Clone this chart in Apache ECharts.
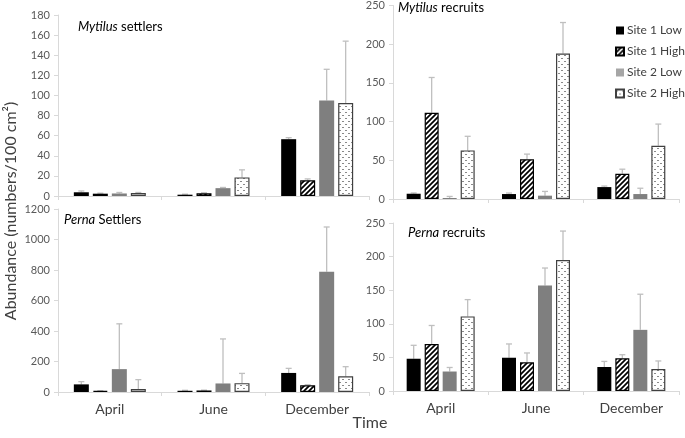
<!DOCTYPE html>
<html><head><meta charset="utf-8">
<script src="https://cdn.jsdelivr.net/npm/echarts@6/dist/echarts.min.js"></script>
<style>html,body{margin:0;padding:0;background:#fff}#c{width:685px;height:438px}</style>
</head><body><div id="c"></div>
<script>
// ---------- data ----------
const months = ['April', 'June', 'December'];
const seriesNames = ['Site 1 Low', 'Site 1 High', 'Site 2 Low', 'Site 2 High'];

// Mytilus settlers (means, error)
const mytSetS1L = [3.7, 1.3, 56.5], mytSetS1LErr = [1.3, 0.5, 1.5];
const mytSetS1H = [2.3, 2.7, 15.7], mytSetS1HErr = [0.5, 0.5, 1.3];
const mytSetS2L = [2.5, 7.8, 95],   mytSetS2LErr = [1, 0.7, 31];
const mytSetS2H = [3, 18.5, 92.5],  mytSetS2HErr = [0.5, 7.5, 61.5];

// Mytilus recruits
const mytRecS1L = [6.8, 6.4, 15.4],   mytRecS1LErr = [1, 1.3, 1.3];
const mytRecS1H = [111.5, 51.3, 32.5], mytRecS1HErr = [45.5, 6.7, 6];
const mytRecS2L = [1.3, 4.3, 6.4],    mytRecS2LErr = [2, 5.5, 7.5];
const mytRecS2H = [62.8, 188, 68.8],  mytRecS2HErr = [18.2, 40, 28];

// Perna settlers
const perSetS1L = [50, 8, 125],   perSetS1LErr = [18, 3, 30];
const perSetS1H = [7, 10, 44],    perSetS1HErr = [2, 2, 4];
const perSetS2L = [150, 56, 789], perSetS2LErr = [297, 292, 293];
const perSetS2H = [20, 58, 103],  perSetS2HErr = [61, 64, 63];

// Perna recruits
const perRecS1L = [48, 49.5, 35.7], perRecS1LErr = [20, 20.5, 8.3];
const perRecS1H = [70, 42.6, 48.6], perRecS1HErr = [27.5, 14, 5.4];
const perRecS2L = [29, 157, 91],    perRecS2LErr = [6, 26, 53];
const perRecS2H = [111, 195, 32.7], perRecS2HErr = [25, 43, 12];

// axis ticks
const tlAxis = {min: 0, max: 180, interval: 20};
const trAxis = {min: 0, max: 250, interval: 50};
const blAxis = {min: 0, max: 1200, interval: 200};
const brAxis = {min: 0, max: 250, interval: 50};

// ---------- patterns ----------
function hatch() {
  const s = 5, c = document.createElement('canvas');
  c.width = s; c.height = s;
  const g = c.getContext('2d');
  g.fillStyle = '#fff'; g.fillRect(0, 0, s, s);
  g.strokeStyle = '#000'; g.lineWidth = 1.7;
  g.beginPath();
  g.moveTo(-1, s + 1); g.lineTo(s + 1, -1);
  g.moveTo(-1, 1); g.lineTo(1, -1);
  g.moveTo(s - 1, s + 1); g.lineTo(s + 1, s - 1);
  g.stroke();
  return c;
}
function dots() {
  const c = document.createElement('canvas');
  c.width = 6; c.height = 6;
  const g = c.getContext('2d');
  g.fillStyle = '#fff'; g.fillRect(0, 0, 6, 6);
  g.fillStyle = '#8a8a8a';
  g.fillRect(0, 1, 2, 1);
  g.fillRect(3, 4, 2, 1);
  return c;
}
const styles = [
  {color: '#000'},
  {color: {image: hatch(), repeat: 'repeat'}, borderColor: '#000', borderWidth: 1.2},
  {color: '#7f7f7f'},
  {color: {image: dots(), repeat: 'repeat'}, borderColor: '#404040', borderWidth: 1.2}
];

const panels = [
  {vals: [mytSetS1L, mytSetS1H, mytSetS2L, mytSetS2H], errs: [mytSetS1LErr, mytSetS1HErr, mytSetS2LErr, mytSetS2HErr], ax: tlAxis, bw: 15, gap: 4, labels: false},
  {vals: [mytRecS1L, mytRecS1H, mytRecS2L, mytRecS2H], errs: [mytRecS1LErr, mytRecS1HErr, mytRecS2LErr, mytRecS2HErr], ax: trAxis, bw: 14, gap: 4, labels: false},
  {vals: [perSetS1L, perSetS1H, perSetS2L, perSetS2H], errs: [perSetS1LErr, perSetS1HErr, perSetS2LErr, perSetS2HErr], ax: blAxis, bw: 15, gap: 4, labels: true},
  {vals: [perRecS1L, perRecS1H, perRecS2L, perRecS2H], errs: [perRecS1LErr, perRecS1HErr, perRecS2LErr, perRecS2HErr], ax: brAxis, bw: 14, gap: 4, labels: true}
];

const grids = [
  {left: 58, top: 15, width: 311, height: 181},
  {left: 393, top: 5, width: 286, height: 194},
  {left: 58, top: 209, width: 311, height: 183},
  {left: 393, top: 223, width: 286, height: 168}
];

const FONT = 'Lato';
const axisCol = '#d9d9d9';
const xAxes = [], yAxes = [], series = [];
panels.forEach((p, pi) => {
  xAxes.push({
    type: 'category', gridIndex: pi, data: months,
    axisLine: {lineStyle: {color: axisCol, width: 1}},
    axisTick: {show: true, length: 4, lineStyle: {color: axisCol}},
    axisLabel: {show: p.labels, fontFamily: FONT, fontSize: 14, color: '#404040', margin: 10}
  });
  yAxes.push({
    type: 'value', gridIndex: pi, min: p.ax.min, max: p.ax.max, interval: p.ax.interval,
    splitLine: {show: false},
    axisLine: {show: true, lineStyle: {color: axisCol, width: 1}},
    axisTick: {show: true, length: 4, lineStyle: {color: axisCol}},
    axisLabel: {fontFamily: FONT, fontSize: 11, color: '#595959', margin: 8, formatter: v => String(v)}
  });
  p.vals.forEach((arr, k) => {
    series.push({
      type: 'bar', name: seriesNames[k], xAxisIndex: pi, yAxisIndex: pi,
      data: arr, barWidth: p.bw, barGap: (p.gap / p.bw * 100) + '%',
      itemStyle: styles[k], emphasis: {disabled: true}, animation: false, z: 3
    });
  });
  p.vals.forEach((arr, k) => {
    const errArr = p.errs[k];
    series.push({
      type: 'custom', name: 'err' + pi + k, xAxisIndex: pi, yAxisIndex: pi,
      data: arr.map((v, i) => [i, v, errArr[i]]),
      encode: {x: 0, y: 1}, z: 2, animation: false, silent: true,
      renderItem: function (params, api) {
        const ci = api.value(0), v = api.value(1), e = api.value(2);
        const base = api.coord([ci, v]);
        const top = api.coord([ci, v + e]);
        const x = base[0] + (k - 1.5) * (p.bw + p.gap);
        const st = {stroke: '#bfbfbf', lineWidth: 1.3};
        return {type: 'group', children: [
          {type: 'line', shape: {x1: x, y1: base[1], x2: x, y2: top[1]}, style: st},
          {type: 'line', shape: {x1: x - 3, y1: top[1], x2: x + 3, y2: top[1]}, style: st}
        ]};
      }
    });
  });
});

const titleRich = {i: {fontStyle: 'italic', fontFamily: FONT, fontSize: 13, color: '#000'}, n: {fontFamily: FONT, fontSize: 13, color: '#000'}};
function ttl(txt, left, top) {
  return {text: txt, left: left, top: top, padding: 0, textStyle: {rich: titleRich, fontFamily: FONT, fontSize: 13, fontWeight: 'normal'}};
}

const option = {
  animation: false,
  backgroundColor: '#fff',
  grid: grids,
  xAxis: xAxes,
  yAxis: yAxes,
  series: series,
  title: [
    ttl('{i|Mytilus}{n| settlers}', 78, 20),
    ttl('{i|Mytilus}{n| recruits}', 398, 1),
    ttl('{i|Perna}{n| Settlers}', 64, 213),
    ttl('{i|Perna}{n| recruits}', 408, 226)
  ],
  legend: {
    data: seriesNames.map((n, i) => i === 2 ? {name: n, itemStyle: {color: '#a6a6a6'}} : {name: n}),
    orient: 'vertical', left: 615, top: 24, padding: 0, icon: 'rect',
    itemWidth: 8, itemHeight: 8, itemGap: 8, selectedMode: false,
    textStyle: {fontFamily: FONT, fontSize: 12, color: '#404040', lineHeight: 13, padding: [0, 0, 0, -2]}
  },
  graphic: [
    {type: 'text', x: 11, y: 211, rotation: Math.PI / 2,
     style: {text: 'Abundance (numbers/100 cm²)', font: '16px Lato', fill: '#404040', textAlign: 'center', textVerticalAlign: 'middle'}},
    {type: 'text', x: 370, y: 423,
     style: {text: 'Time', font: '16px Lato', fill: '#404040', textAlign: 'center', textVerticalAlign: 'middle'}}
  ]
};
const chart = echarts.init(document.getElementById('c'), null, {renderer: 'canvas'});
chart.setOption(option);
</script></body></html>
